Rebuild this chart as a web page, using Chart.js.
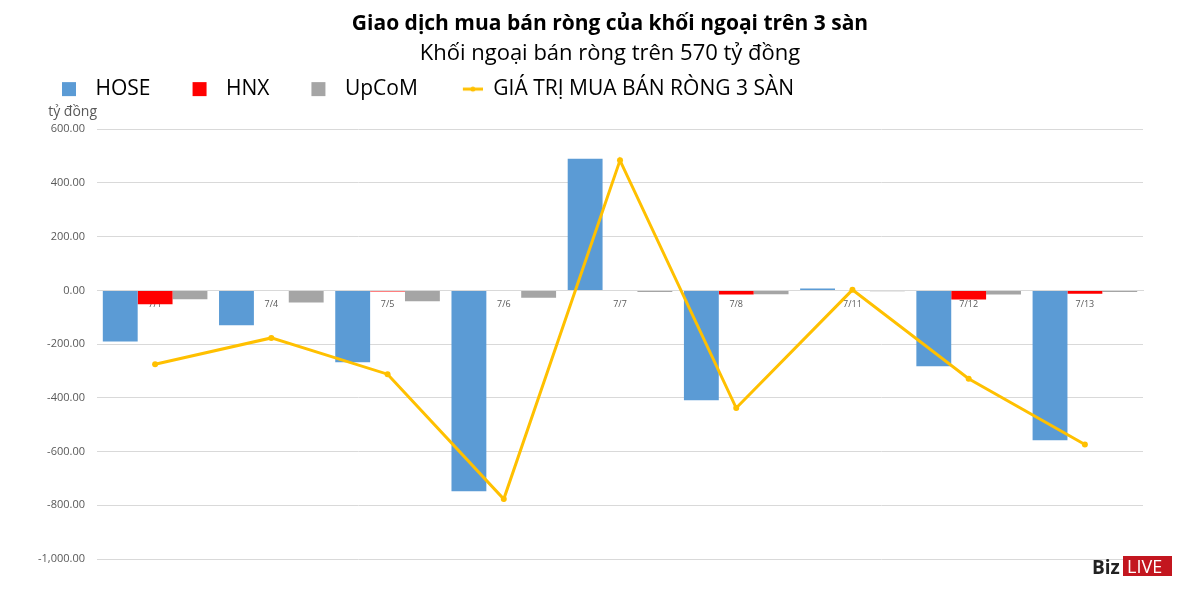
<!DOCTYPE html>
<html>
<head>
<meta charset="utf-8">
<script src="https://cdn.jsdelivr.net/npm/chart.js@4.4.1/dist/chart.umd.min.js"></script>
<style>
  html, body { margin: 0; padding: 0; background: #fff; }
  #wrap { width: 1200px; height: 591px; position: relative; }
</style>
</head>
<body>
<div id="wrap"><canvas id="graf"></canvas></div>
<script>
// du lieu doc tu hinh
var ngay = ['7/1', '7/4', '7/5', '7/6', '7/7', '7/8', '7/11', '7/12', '7/13'];
var hose = [-190, -130, -268, -748, 490, -409, 7, -282, -558];
var hnx = [-52, -2, -4, -2, -2, -15, -2, -34, -13];
var upcom = [-33, -45, -40, -27, -6, -14, -3, -15, -6];
var rong = [-275, -177, -312, -777, 484, -438, 2, -329, -574];
var tenSeries = ['HOSE', 'HNX', 'UpCoM', 'GIÁ TRỊ MUA BÁN RÒNG 3 SÀN'];
var mau = ['#5B9BD5', '#FF0000', '#A5A5A5', '#FFC000'];

var FONT = '"Open Sans", "Noto Sans", sans-serif';
Chart.defaults.font.family = FONT;
Chart.defaults.color = '#595959';

// icon cho legend (chua khoang trong ben trai de gian cach nhu Excel)
function iconO(color) {
    var c = document.createElement('canvas');
    c.width = 55; c.height = 20;
    var g = c.getContext('2d');
    g.fillStyle = color;
    g.fillRect(32, 3, 14, 14);
    return c;
}
function iconDuong(color) {
    var c = document.createElement('canvas');
    c.width = 55; c.height = 20;
    var g = c.getContext('2d');
    g.strokeStyle = color;
    g.lineWidth = 3;
    g.beginPath(); g.moveTo(35, 10); g.lineTo(55, 10); g.stroke();
    g.fillStyle = color;
    g.beginPath(); g.arc(45, 10, 2.5, 0, Math.PI * 2); g.fill();
    return c;
}
var icons = [iconO(mau[0]), iconO(mau[1]), iconO(mau[2]), iconDuong(mau[3])];

var chuThich = {
    id: 'chuThich',
    afterDraw: function (chart) {
        var ctx = chart.ctx;
        ctx.save();
        // don vi truc y
        ctx.font = '14px ' + FONT;
        ctx.fillStyle = '#595959';
        ctx.textAlign = 'right';
        ctx.textBaseline = 'middle';
        ctx.fillText('tỷ đồng', 97, 112);
        // logo BizLIVE
        ctx.textAlign = 'left';
        ctx.textBaseline = 'alphabetic';
        ctx.font = 'bold 19px ' + FONT;
        ctx.fillStyle = '#222';
        ctx.fillText('Biz', 1092, 574);
        ctx.fillStyle = '#C3161F';
        ctx.fillRect(1123, 556, 49, 20);
        ctx.font = '18px ' + FONT;
        ctx.fillStyle = '#fff';
        ctx.fillText('LIVE', 1127, 573);
        ctx.restore();
    }
};

var ctx = document.getElementById('graf').getContext('2d');
var myChart = new Chart(ctx, {
    type: 'bar',
    data: {
        labels: ngay,
        datasets: [
            { label: tenSeries[0], data: hose, backgroundColor: mau[0], order: 1 },
            { label: tenSeries[1], data: hnx, backgroundColor: mau[1], order: 1 },
            { label: tenSeries[2], data: upcom, backgroundColor: mau[2], order: 1 },
            {
                type: 'line', label: tenSeries[3], data: rong,
                borderColor: mau[3], backgroundColor: mau[3],
                borderWidth: 3, pointRadius: 3, pointHoverRadius: 3,
                pointBorderWidth: 0,
                tension: 0, order: 0
            }
        ]
    },
    options: {
        responsive: true,
        maintainAspectRatio: false,
        animation: false,
        layout: { padding: { left: 20, right: 0, top: 0, bottom: 32 } },
        datasets: { bar: { categoryPercentage: 0.9, barPercentage: 1.0 } },
        plugins: {
            title: {
                display: true,
                text: 'Giao dịch mua bán ròng của khối ngoại trên 3 sàn',
                color: '#000',
                font: { size: 21, weight: 'bold' },
                padding: { top: 11, bottom: 0 }
            },
            subtitle: {
                display: true,
                text: 'Khối ngoại bán ròng trên 570 tỷ đồng',
                color: '#000',
                font: { size: 22 },
                padding: { top: 4, bottom: 2 }
            },
            legend: {
                display: true,
                position: 'top',
                align: 'start',
                labels: {
                    usePointStyle: true,
                    pointStyleWidth: 55,
                    boxHeight: 20,
                    padding: 10,
                    color: '#595959',
                    font: { size: 21 },
                    generateLabels: function (chart) {
                        return chart.data.datasets.map(function (ds, i) {
                            return {
                                text: ds.label,
                                fillStyle: mau[i],
                                strokeStyle: mau[i],
                                lineWidth: 0,
                                pointStyle: icons[i],
                                hidden: false,
                                datasetIndex: i
                            };
                        });
                    }
                }
            },
            tooltip: { enabled: false }
        },
        scales: {
            x: {
                position: { y: 0 },
                grid: { display: false, drawTicks: false },
                border: { display: true, color: '#D9D9D9' },
                ticks: { font: { size: 9 }, color: '#595959', padding: 9, maxRotation: 0 }
            },
            y: {
                min: -1000,
                max: 673,
                grid: { color: '#D9D9D9', drawTicks: false },
                border: { display: false },
                ticks: {
                    stepSize: 200,
                    includeBounds: false,
                    padding: 12,
                    font: { size: 11 },
                    color: '#595959',
                    callback: function (v) {
                        return v.toLocaleString('en-US', { minimumFractionDigits: 2, maximumFractionDigits: 2 });
                    }
                },
                afterFit: function (s) { s.width = 77; }
            },
            y2: {
                position: 'right',
                display: true,
                grid: { display: false, drawTicks: false },
                border: { display: false },
                ticks: { display: false },
                afterFit: function (s) { s.width = 57; }
            }
        }
    },
    plugins: [chuThich]
});
</script>
</body>
</html>
